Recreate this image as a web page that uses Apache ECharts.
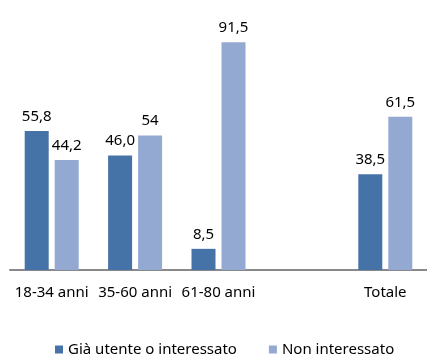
<!DOCTYPE html>
<html>
<head>
<meta charset="utf-8">
<script src="https://cdn.jsdelivr.net/npm/echarts@6/dist/echarts.min.js"></script>
<style>
  html, body { margin: 0; padding: 0; background: #fff; }
  #chart { width: 427px; height: 356px; }
</style>
</head>
<body>
<div id="chart"></div>
<script>
// Age groups plus the overall total (one blank slot separates them)
var categories = ['18-34 anni', '35-60 anni', '61-80 anni', '', 'Totale'];
var seriesNames = ['Già utente o interessato', 'Non interessato'];
var giaValues = [55.8, 46.0, 8.5, null, 38.5];
var nonValues = [44.2, 54, 91.5, null, 61.5];
// decimals shown in each value label
var giaDigits = [1, 1, 1, null, 1];
var nonDigits = [1, 0, 1, null, 1];

var FONT = 'Noto Sans';
var FS = 15;

function labelFormatter(digits) {
  return function (p) {
    if (p.value == null) return '';
    return Number(p.value).toFixed(digits[p.dataIndex]).replace('.', ',');
  };
}

var chart = echarts.init(document.getElementById('chart'));
chart.setOption({
  animation: false,
  textStyle: { fontFamily: FONT },
  grid: { left: 10, right: 0, top: 21, bottom: 86, containLabel: false },
  legend: {
    left: 50,
    bottom: -6,
    itemWidth: 8,
    itemHeight: 8,
    itemGap: 32,
    icon: 'rect',
    textStyle: { fontFamily: FONT, fontSize: FS, color: '#000' },
    data: seriesNames
  },
  xAxis: {
    type: 'category',
    data: categories,
    axisLine: { lineStyle: { color: '#898989', width: 2 } },
    axisTick: { show: false },
    axisLabel: { color: '#000', fontSize: FS, fontFamily: FONT, margin: 15, interval: 0 }
  },
  yAxis: {
    type: 'value',
    min: 0,
    max: 100,
    show: false,
    splitLine: { show: false }
  },
  series: [
    {
      name: seriesNames[0],
      type: 'bar',
      data: giaValues,
      barWidth: 24,
      barGap: '25%',
      itemStyle: { color: '#4673A7' },
      label: {
        show: true, position: 'top', distance: 7,
        color: '#000', fontSize: FS, fontFamily: FONT,
        formatter: labelFormatter(giaDigits)
      }
    },
    {
      name: seriesNames[1],
      type: 'bar',
      data: nonValues,
      barWidth: 24,
      barGap: '25%',
      itemStyle: { color: '#94A9D2' },
      label: {
        show: true, position: 'top', distance: 7,
        color: '#000', fontSize: FS, fontFamily: FONT,
        formatter: labelFormatter(nonDigits)
      }
    }
  ]
});
</script>
</body>
</html>
